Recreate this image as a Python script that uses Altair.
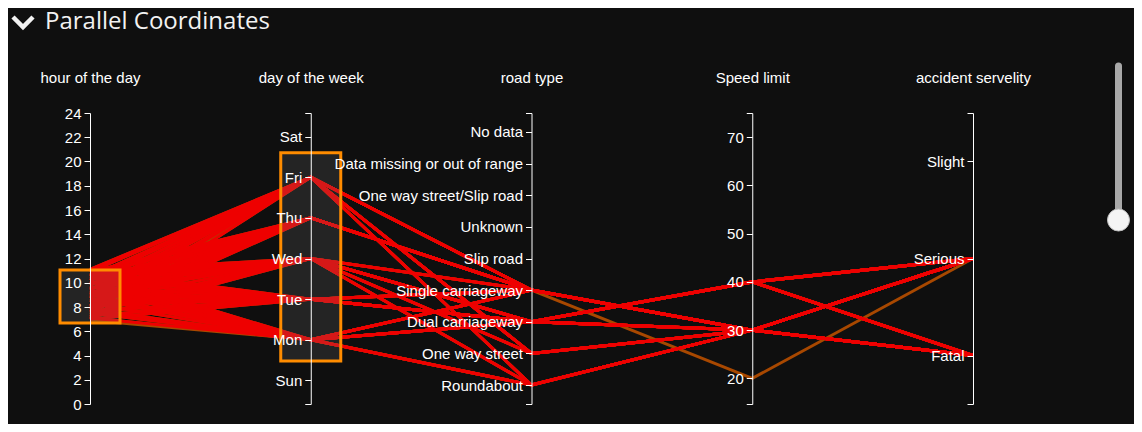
import json
import altair as alt
import pandas as pd

# ---------------- data ----------------
HEADERS = ["hour of the day", "day of the week", "road type", "Speed limit", "accident servelity"]
DAYS = ["Sun", "Mon", "Tue", "Wed", "Thu", "Fri", "Sat"]                      # bottom -> top
ROADS = ["Roundabout", "One way street", "Dual carriageway", "Single carriageway",
         "Slip road", "Unknown", "One way street/Slip road",
         "Data missing or out of range", "No data"]                           # bottom -> top
SEVERITIES = ["Fatal", "Serious", "Slight"]                                   # bottom -> top
HOUR_TICKS = [0, 2, 4, 6, 8, 10, 12, 14, 16, 18, 20, 22, 24]
SPEED_TICKS = [20, 30, 40, 50, 60, 70]

hour = [10.9, 9.4, 8.1, 8.7, 10.2, 7.4, 7.0, 7.8, 9.0, 9.8, 10.5, 11.1,
        7.6, 8.4, 9.1, 9.9, 10.6, 7.2, 8.0, 8.8, 9.5, 10.2, 10.9,
        7.1, 7.9, 8.9, 9.6, 10.4, 11.0, 7.5, 8.4, 9.2, 10.0, 10.7,
        7.3, 8.2, 8.5, 9.2, 10.0, 10.7, 7.0, 7.7, 8.9, 9.6, 10.4, 11.0,
        6.9, 7.5, 8.3, 9.0, 9.7, 10.5, 7.1, 7.8, 8.7, 9.4, 10.1, 10.8]
day = ["Fri"] * 12 + ["Thu"] * 11 + ["Wed"] * 11 + ["Tue"] * 12 + ["Mon"] * 12
road = ["Single carriageway", "Single carriageway", "One way street", "Roundabout", "One way street", "Single carriageway",
        "Single carriageway", "One way street", "Single carriageway", "Roundabout", "Single carriageway", "One way street",
        "Single carriageway", "Single carriageway", "Single carriageway", "Single carriageway", "Single carriageway",
        "Single carriageway", "Single carriageway", "Single carriageway", "Single carriageway", "Single carriageway", "Single carriageway",
        "Dual carriageway", "One way street", "Roundabout", "Single carriageway", "Dual carriageway", "Dual carriageway",
        "Dual carriageway", "One way street", "Dual carriageway", "Single carriageway", "Roundabout",
        "Dual carriageway", "Dual carriageway", "Single carriageway", "Dual carriageway", "Dual carriageway", "Single carriageway",
        "Dual carriageway", "Single carriageway", "Dual carriageway", "Single carriageway", "Dual carriageway", "Dual carriageway",
        "Roundabout", "Single carriageway", "Dual carriageway", "Roundabout", "Dual carriageway", "Single carriageway",
        "Single carriageway", "Dual carriageway", "Roundabout", "Dual carriageway", "Single carriageway", "Dual carriageway"]
speed = [30, 30, 30, 30, 30, 20, 30, 30, 30, 30, 30, 30,
         30, 30, 30, 30, 30, 30, 30, 30, 30, 30, 30,
         40, 30, 30, 30, 40, 30, 40, 30, 30, 30, 30,
         30, 40, 30, 30, 40, 30, 30, 30, 40, 30, 30, 40,
         30, 30, 40, 30, 30, 30, 30, 40, 30, 30, 30, 40]
severity = ["Fatal", "Serious", "Serious", "Fatal", "Fatal", "Serious", "Serious", "Fatal", "Fatal", "Serious", "Serious", "Serious",
            "Serious", "Fatal", "Serious", "Fatal", "Serious", "Serious", "Fatal", "Serious", "Fatal", "Serious", "Fatal",
            "Serious", "Serious", "Fatal", "Serious", "Fatal", "Serious", "Serious", "Fatal", "Serious", "Fatal", "Serious",
            "Fatal", "Serious", "Serious", "Serious", "Fatal", "Fatal", "Serious", "Fatal", "Fatal", "Serious", "Fatal", "Serious",
            "Fatal", "Serious", "Serious", "Serious", "Fatal", "Fatal", "Serious", "Fatal", "Fatal", "Serious", "Serious", "Serious"]
selected = [True] * 5 + [False] + [True] * 40 + [False] + [True] * 11

# brush extents (in each axis' own units)
HOUR_BRUSH = [6.68, 11.05]
DAY_BRUSH = [0.48, 5.6]

# ---------------- layout / style ----------------
W, H = 883, 291
STEP = W / 4
DOMAINS = [[0, 24], [-0.58, 6.58], [-0.6, 8.6], [14.7, 75], [-0.5, 2.5]]
RED = "#ee0000"
BROWN = "#a84800"
WHITE = "#ffffff"
FONT = "Liberation Sans"


def norm(v, k):
    lo, hi = DOMAINS[k]
    return (v - lo) / (hi - lo)


rows = []
for i in range(len(hour)):
    vals = [hour[i], DAYS.index(day[i]), ROADS.index(road[i]), speed[i], SEVERITIES.index(severity[i])]
    for k, v in enumerate(vals):
        rows.append({"id": i, "axis": k, "norm": norm(v, k), "sel": selected[i]})
lines_df = pd.DataFrame(rows)

brush_df = pd.DataFrame({
    "axis": [0, 1],
    "lo": [norm(HOUR_BRUSH[0], 0), norm(DAY_BRUSH[0], 1)],
    "hi": [norm(HOUR_BRUSH[1], 0), norm(DAY_BRUSH[1], 1)],
})

xs = alt.Scale(domain=[0, 4], nice=False, zero=False)
ys = alt.Scale(domain=[0, 1], nice=False, zero=False)

bg = alt.Chart(lines_df).mark_line(color=BROWN, strokeWidth=3).encode(
    x=alt.X("axis:Q", scale=xs, axis=None),
    y=alt.Y("norm:Q", scale=ys, axis=None),
    detail="id:N", order="axis:Q")
fg = alt.Chart(lines_df).transform_filter("datum.sel").mark_line(color=RED, strokeWidth=3).encode(
    x=alt.X("axis:Q", scale=xs, axis=None),
    y=alt.Y("norm:Q", scale=ys, axis=None),
    detail="id:N", order="axis:Q")

half = 30 / STEP
brush = alt.Chart(brush_df).transform_calculate(
    x0=f"datum.axis - {half}", x1=f"datum.axis + {half}"
).mark_rect(fill="#777777", fillOpacity=0.2, stroke="#ff8c00", strokeWidth=3).encode(
    x=alt.X("x0:Q", scale=xs, axis=None), x2="x1:Q",
    y=alt.Y("lo:Q", scale=ys, axis=None), y2="hi:Q")


def axis_layer(k, values, label_expr=None):
    kw = dict(orient="left", offset=-k * STEP, values=values, title=HEADERS[k],
              titleAngle=0, titleX=0, titleY=-36, titleAlign="center", titleBaseline="middle",
              grid=False, labelOverlap=False, labelFlush=False, tickSize=6, labelPadding=3,
              labelLimit=400, zindex=2)
    if label_expr:
        kw["labelExpr"] = label_expr
    return alt.Chart(pd.DataFrame({"v": values})).mark_point(opacity=0).encode(
        y=alt.Y("v:Q", scale=alt.Scale(domain=DOMAINS[k], nice=False, zero=False),
                axis=alt.Axis(**kw)))


def cat_expr(names):
    return f"datum.value == round(datum.value) ? {json.dumps(names)}[datum.value] : ''"


ax0 = axis_layer(0, HOUR_TICKS)
ax1 = axis_layer(1, [DOMAINS[1][0]] + list(range(len(DAYS))) + [DOMAINS[1][1]], cat_expr(DAYS))
ax2 = axis_layer(2, [DOMAINS[2][0]] + list(range(len(ROADS))) + [DOMAINS[2][1]], cat_expr(ROADS))
ax3 = axis_layer(3, [DOMAINS[3][0]] + SPEED_TICKS + [DOMAINS[3][1]],
                 "datum.value % 10 == 0 ? datum.label : ''")
ax4 = axis_layer(4, [DOMAINS[4][0]] + list(range(len(SEVERITIES))) + [DOMAINS[4][1]], cat_expr(SEVERITIES))

title = alt.Chart(pd.DataFrame({"t": ["Parallel Coordinates"]})).mark_text(
    font="Open Sans", fontSize=24, color="#f2f2f2", align="left", baseline="alphabetic"
).encode(x=alt.value(-45), y=alt.value(-84), text="t:N")

chevron = alt.Chart(pd.DataFrame({"t": [0]})).mark_point(
    shape="M-1,-0.5L0,0.5L1,-0.5", size=400, filled=False, stroke="#f2f2f2",
    strokeWidth=4.5, opacity=1
).encode(x=alt.value(-67), y=alt.value(-91))

rail = alt.Chart(pd.DataFrame({"t": [0]})).mark_rule(
    color="#a8a8a8", strokeWidth=7, strokeCap="round"
).encode(x=alt.value(1028.5), y=alt.value(-47), y2=alt.value(107))

knob = alt.Chart(pd.DataFrame({"t": [0]})).mark_circle(
    size=484, color="#f4f4f4", stroke="#c0c0c0", strokeWidth=1, opacity=1
).encode(x=alt.value(1028.5), y=alt.value(107))

chart = alt.layer(bg, fg, brush, ax0, ax1, ax2, ax3, ax4, title, chevron, rail, knob).resolve_scale(
    y="independent").resolve_axis(y="independent").properties(
    width=W, height=H,
    autosize=alt.AutoSizeParams(type="none"),
    padding={"left": 82, "top": 105, "right": 161, "bottom": 20},
    background="#0f0f0f",
).configure_view(stroke=None).configure_axis(
    domainColor=WHITE, tickColor=WHITE, labelColor=WHITE, titleColor=WHITE,
    labelFont=FONT, titleFont=FONT, labelFontSize=15, titleFontSize=15,
    titleFontWeight="normal", domainWidth=1, tickWidth=1,
)

chart.save("out.html", embed_options={"renderer": "svg", "actions": False})
